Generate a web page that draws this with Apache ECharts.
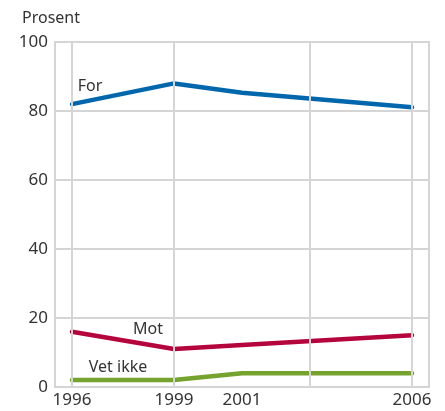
<!DOCTYPE html>
<html>
<head>
<meta charset="utf-8">
<script src="https://cdn.jsdelivr.net/npm/echarts@6/dist/echarts.min.js"></script>
<style>
  html, body { margin: 0; padding: 0; background: #fff; }
  #chart { width: 445px; height: 411px; }
</style>
</head>
<body>
<div id="chart"></div>
<script>
// survey years and shares (prosent)
const years = [1996, 1999, 2001, 2006]
const forValues = [82, 88, 85.3, 81.1]
const motValues = [16, 11, 12.2, 15]
const vetIkkeValues = [2, 2, 4, 4]
const yearLabels = [1996, 1999, 2001, 2006]
const gridYears = [1996, 1999, 2003, 2006]

const font = '"Noto Sans", "Open Sans", sans-serif'
const gridColor = '#d5d5d5'

function pairs(vals) {
  return years.map((y, i) => [y, vals[i]])
}

// text label placed next to a data point
function tag(text, coord, offset) {
  return {
    symbol: 'circle',
    symbolSize: 0,
    silent: true,
    label: {
      show: true,
      position: 'inside',
      color: '#333',
      fontSize: 16,
      fontFamily: font,
    },
    data: [{ coord: coord, value: text, label: { formatter: text, offset: offset } }],
  }
}

function lineSeries(name, vals, color, mark) {
  return {
    name: name,
    type: 'line',
    data: pairs(vals),
    symbol: 'none',
    z: 3,
    lineStyle: { color: color, width: 4.5, cap: 'round', join: 'round' },
    itemStyle: { color: color },
    markPoint: mark,
  }
}

const chart = echarts.init(document.getElementById('chart'))
chart.setOption({
  animation: false,
  title: {
    text: 'Prosent',
    left: 17,
    top: 5,
    textStyle: { color: '#333', fontSize: 16, fontWeight: 'normal', fontFamily: font },
  },
  grid: {
    left: 55, right: 16, top: 42, bottom: 24,
    show: true,
    borderColor: gridColor,
    borderWidth: 2,
  },
  xAxis: {
    type: 'value',
    min: 1995.5,
    max: 2006.5,
    interval: 0.5,
    axisLine: { show: false },
    axisTick: { show: false },
    splitLine: { show: false },
    axisLabel: {
      color: '#333',
      fontSize: 17,
      fontFamily: font,
      margin: 5,
      formatter: v => (yearLabels.includes(v) ? String(v) : ''),
    },
  },
  yAxis: {
    type: 'value',
    min: 0,
    max: 100,
    interval: 20,
    axisLine: { show: false },
    axisTick: { show: false },
    splitLine: { lineStyle: { color: gridColor, width: 2 } },
    axisLabel: { color: '#333', fontSize: 17, fontFamily: font, margin: 7 },
  },
  series: [
    {
      // vertical grid lines
      type: 'line',
      data: [],
      z: 1,
      markLine: {
        silent: true,
        symbol: 'none',
        label: { show: false },
        lineStyle: { color: gridColor, width: 2, type: 'solid' },
        data: gridYears.map(y => ({ xAxis: y })),
      },
    },
    lineSeries('For', forValues, '#0067ac', tag('For', [1996, 82], [18, -18])),
    lineSeries('Mot', motValues, '#b5053d', tag('Mot', [1999, 11], [-26, -20])),
    lineSeries('Vet ikke', vetIkkeValues, '#76a22e', tag('Vet ikke', [1996, 2], [46, -13])),
  ],
})
</script>
</body>
</html>
